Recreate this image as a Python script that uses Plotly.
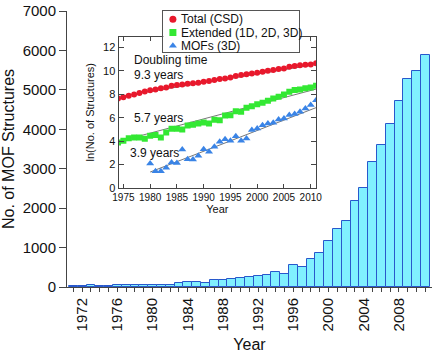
import numpy as np
import plotly.graph_objects as go

# ---------------- data ----------------
years = list(range(1971, 2012))
mof_counts = [25, 25, 50, 25, 25, 40, 55, 55, 40, 55, 55, 55, 90, 120, 120, 110,
              170, 188, 195, 220, 255, 272, 315, 373, 340, 552, 518, 713, 874,
              1163, 1460, 1671, 2180, 2500, 3170, 3605, 4140, 4730, 5265, 5480, 5887]

total_years = list(range(1974, 2012))
total_ln = [7.65, 7.74, 7.88, 7.99, 8.11, 8.25, 8.34, 8.42, 8.53, 8.59, 8.73, 8.79,
            8.85, 8.91, 8.94, 8.99, 9.08, 9.13, 9.22, 9.31, 9.36, 9.45, 9.56, 9.65,
            9.71, 9.79, 9.85, 9.93, 10.02, 10.08, 10.16, 10.22, 10.36, 10.42, 10.48,
            10.53, 10.56, 10.65]

extended_years = list(range(1974, 2012))
extended_ln = [3.88, 4.02, 4.25, 4.31, 4.31, 4.19, 4.45, 4.51, 4.31, 4.74, 5.05, 5.05,
               4.98, 5.34, 5.39, 5.51, 5.59, 5.51, 5.82, 5.79, 6.19, 6.2, 6.56, 6.5,
               6.85, 6.99, 7.16, 7.28, 7.45, 7.65, 7.79, 7.99, 8.22, 8.36, 8.42, 8.51,
               8.59, 8.73]

mof3d_years = list(range(1980, 2012))
mof3d_ln = [2.08, 1.42, 1.42, 1.71, 2.17, 2.13, 3.28, 2.45, 2.42, 2.74, 3.31, 3.08,
            3.51, 3.94, 4.16, 4.02, 4.42, 4.02, 4.22, 4.94, 5.08, 5.36, 5.51, 5.56,
            5.85, 5.94, 6.22, 6.31, 6.5, 6.79, 7.08, 7.5]

series_names = ["Total (CSD)", "Extended (1D, 2D, 3D)", "MOFs (3D)"]
doubling_times = [9.3, 5.7, 3.9]
fit_start_year = [1974, 1974, 1980]
fit_end_year = [2011, 2011, 2011]
fit_start_value = [7.8, 3.95, 1.35]

# ---------------- styles ----------------
FONT = "Liberation Sans, Arial, sans-serif"
RED, GREEN, BLUE = "#e8182c", "#33e833", "#3a84e6"
colors = [RED, GREEN, BLUE]
symbols = ["circle", "square", "triangle-up"]
sizes = [6, 6, 7]
AX = "#444444"

fig = go.Figure()

# main bar chart
fig.add_trace(go.Bar(
    x=years, y=mof_counts, width=1.0,
    marker=dict(color="#80f0ff", line=dict(color="#2858cc", width=1)),
    showlegend=False, xaxis="x", yaxis="y"))

# fit lines in the inset
for i in range(3):
    slope = np.log(2) / doubling_times[i]
    xs = [fit_start_year[i], fit_end_year[i]]
    ys = [fit_start_value[i], fit_start_value[i] + slope * (fit_end_year[i] - fit_start_year[i])]
    fig.add_trace(go.Scatter(x=xs, y=ys, mode="lines",
                             line=dict(color="#777777", width=1),
                             showlegend=False, xaxis="x2", yaxis="y2"))

inset_x = [total_years, extended_years, mof3d_years]
inset_y = [total_ln, extended_ln, mof3d_ln]
for i in range(3):
    fig.add_trace(go.Scatter(x=inset_x[i], y=inset_y[i], mode="markers",
                             name=series_names[i],
                             marker=dict(color=colors[i], symbol=symbols[i], size=sizes[i],
                                         line=dict(width=0)),
                             showlegend=False, xaxis="x2", yaxis="y2"))

# custom compact legend (own small axes box)
legend_rows = [0.80, 0.47, 0.15]
for i in range(3):
    fig.add_trace(go.Scatter(x=[0.07], y=[legend_rows[i]], mode="markers",
                             marker=dict(color=colors[i], symbol=symbols[i], size=7,
                                         line=dict(width=0)),
                             showlegend=False, hoverinfo="skip",
                             xaxis="x3", yaxis="y3"))

annotations = []
for i in range(3):
    annotations.append(dict(x=0.118, y=legend_rows[i], xref="x3", yref="y3",
                            text=series_names[i], showarrow=False, xanchor="left",
                            yanchor="middle", font=dict(size=12, color="#111", family=FONT)))

inset_labels = [("Doubling time", 1976.7, 10.93),
                ("9.3 years", 1976.7, 9.62),
                ("5.7 years", 1976.7, 5.99),
                ("3.9 years", 1975.95, 2.99)]
for txt, xx, yy in inset_labels:
    annotations.append(dict(x=xx, y=yy, xref="x2", yref="y2", text=txt,
                            showarrow=False, xanchor="left", yanchor="middle",
                            font=dict(size=12, color="#111", family=FONT)))

fig.update_layout(
    width=439, height=354,
    margin=dict(l=58, r=1, t=11, b=67),
    paper_bgcolor="white", plot_bgcolor="white",
    font=dict(family=FONT, color="#111"),
    bargap=0,
    showlegend=False,
    annotations=annotations,
    xaxis=dict(domain=[0, 1], range=[1970.28, 2011.76], tickmode="linear", tick0=1972, dtick=4,
               tickangle=-90, ticks="outside", ticklen=4, tickcolor=AX,
               minor=dict(tick0=1971, dtick=1, ticks="outside", ticklen=4, tickcolor=AX),
               showline=True, linecolor=AX, linewidth=1, showgrid=False, zeroline=False,
               tickfont=dict(size=15, color="#111"),
               title=dict(text="Year", font=dict(size=16, color="#111"), standoff=8)),
    yaxis=dict(domain=[0, 1], range=[0, 7000], tickmode="linear", tick0=0, dtick=1000,
               ticks="outside", ticklen=7, tickcolor=AX,
               showline=True, linecolor=AX, linewidth=1, showgrid=False, zeroline=False,
               tickfont=dict(size=15, color="#111"),
               title=dict(text="No. of MOF Structures", font=dict(size=16, color="#111"), standoff=10)),
    xaxis2=dict(domain=[0.1413, 0.6824], anchor="y2", range=[1974.1, 2011.0],
                tickmode="linear", tick0=1975, dtick=5, ticks="inside", ticklen=4,
                tickcolor=AX, mirror="allticks", showline=True, linecolor=AX, linewidth=1,
                showgrid=False, zeroline=False, tickfont=dict(size=10, color="#111"),
                title=dict(text="Year", font=dict(size=11, color="#111"), standoff=3)),
    yaxis2=dict(domain=[0.3594, 0.9068], anchor="x2", range=[0, 12.93],
                tickmode="linear", tick0=0, dtick=2, ticks="inside", ticklen=5,
                tickcolor=AX, mirror="allticks", showline=True, linecolor=AX, linewidth=1,
                showgrid=False, zeroline=False, tickfont=dict(size=11, color="#111"),
                title=dict(text="ln(No. of Structures)", font=dict(size=11, color="#111"), standoff=6)),
    xaxis3=dict(domain=[0.264, 0.6368], anchor="y3", range=[0, 1], showticklabels=False,
                ticks="", showline=True, mirror=True, linecolor="#555", linewidth=1,
                showgrid=False, zeroline=False, fixedrange=True),
    yaxis3=dict(domain=[0.8524, 1.0], anchor="x3", range=[0, 1], showticklabels=False,
                ticks="", showline=True, mirror=True, linecolor="#555", linewidth=1,
                showgrid=False, zeroline=False, fixedrange=True),
)

fig.write_html("out.html")
